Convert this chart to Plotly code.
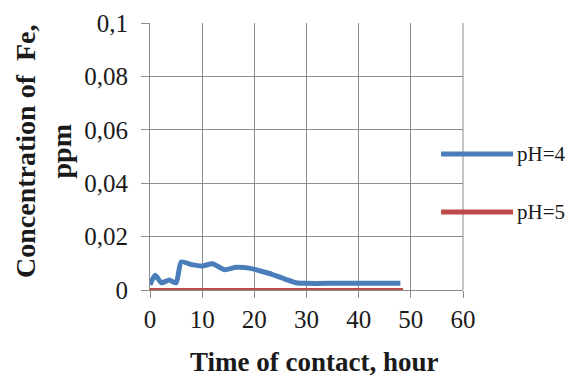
import plotly.graph_objects as go

hours_ph4 = [0, 1, 2.2, 3.7, 5, 6, 8, 10, 12, 14.3, 16.5, 19, 21, 23.5, 26, 28, 30, 36, 42, 48]
fe_ph4 = [0.002, 0.0055, 0.0027, 0.0037, 0.0027, 0.0105, 0.0095, 0.009, 0.0098, 0.0076, 0.0085, 0.0082, 0.0072, 0.0058, 0.004, 0.0027, 0.0025, 0.0025, 0.0025, 0.0025]
hours_ph5 = [0, 1, 2, 4, 6, 8, 10, 12, 24, 48.5]
fe_ph5 = [0, 0, 0, 0, 0, 0, 0, 0, 0, 0]
names = ["pH=4", "pH=5"]
colors = ["#4a7ebb", "#be4b48"]
x_title = "Time of contact, hour"
y_title = "Concentration of  Fe,<br>ppm"

fig = go.Figure()
fig.add_trace(go.Scatter(x=hours_ph4, y=fe_ph4, mode="lines", name=names[0],
                         line=dict(color=colors[0], width=5, shape="spline", smoothing=0.6)))
fig.add_trace(go.Scatter(x=hours_ph5, y=fe_ph5, mode="lines", name=names[1],
                         line=dict(color=colors[1], width=4)))

font_fam = "Liberation Serif, Times New Roman, serif"
grid = "#8c8c8c"
fig.update_layout(
    width=571, height=376,
    margin=dict(l=150, r=108, t=23, b=86),
    paper_bgcolor="white", plot_bgcolor="white",
    separators=", ",
    showlegend=False,
    font=dict(family=font_fam, size=25, color="#1a1a1a"),
    xaxis=dict(range=[0, 60], dtick=10, showgrid=True, gridcolor=grid, gridwidth=1,
               showline=True, linecolor=grid, linewidth=1,
               ticks="outside", ticklen=7, tickcolor=grid, zeroline=False,
               tickfont=dict(size=25), automargin=False),
    yaxis=dict(range=[0, 0.1], dtick=0.02, showgrid=True, gridcolor=grid, gridwidth=1,
               showline=True, linecolor=grid, linewidth=1,
               ticks="outside", ticklen=8, tickcolor=grid, zeroline=False,
               ticklabelstandoff=8,
               tickfont=dict(size=25), automargin=False),
)
# right border
fig.add_shape(type="line", xref="paper", yref="paper", x0=1, x1=1, y0=0, y1=1,
              line=dict(color=grid, width=1))

# axis titles
fig.add_annotation(xref="paper", yref="paper", x=(314 - 150) / 313, y=(290 - 362) / 267,
                   text="<b>" + x_title + "</b>", showarrow=False, xanchor="center", yanchor="middle",
                   font=dict(size=27, family=font_fam))
fig.add_annotation(xref="paper", yref="paper", x=(43 - 150) / 313, y=(290 - 151) / 267,
                   text="<b>" + y_title + "</b>", showarrow=False, xanchor="center", yanchor="middle",
                   textangle=-90, font=dict(size=28, family=font_fam))

# custom legend
leg_y = [(290 - 154) / 267, (290 - 212) / 267]
for nm, col, yy in zip(names, colors, leg_y):
    fig.add_shape(type="line", xref="paper", yref="paper", x0=0.93, x1=1.16, y0=yy, y1=yy,
                  line=dict(color=col, width=5))
    fig.add_annotation(xref="paper", yref="paper", x=1.165, y=yy, text=nm, showarrow=False,
                       xanchor="left", yanchor="middle", font=dict(size=21, family=font_fam))

fig.write_html("out.html", config={"responsive": False, "displayModeBar": False},
               post_script="document.body.style.margin='0';document.body.style.overflow='hidden';")
